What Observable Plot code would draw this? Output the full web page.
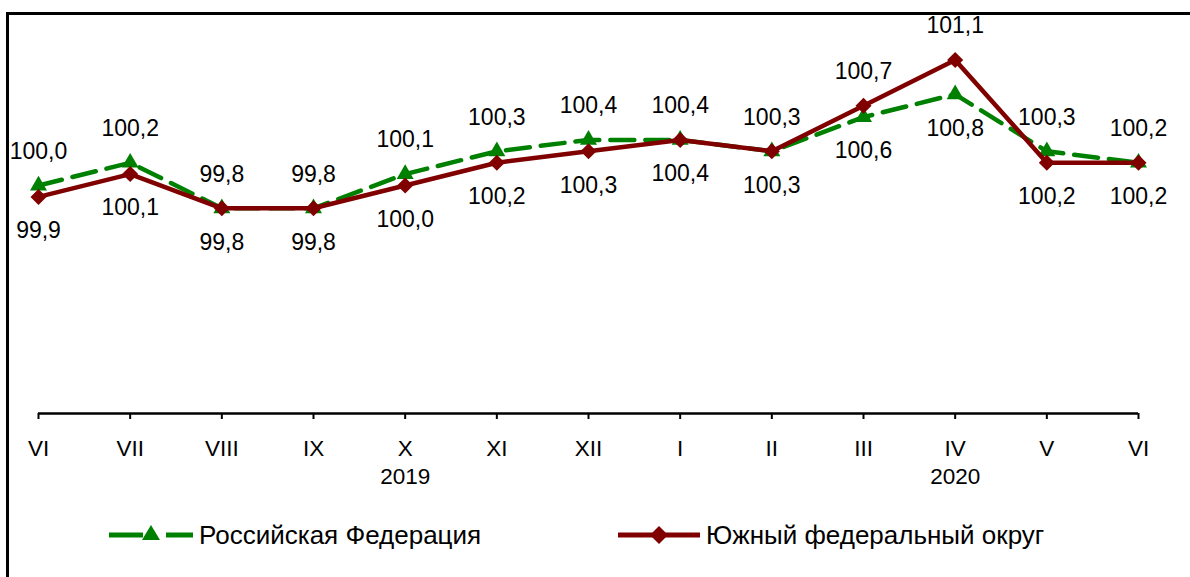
<!DOCTYPE html>
<html>
<head>
<meta charset="utf-8">
<script src="https://cdn.jsdelivr.net/npm/d3@7"></script>
<script src="https://cdn.jsdelivr.net/npm/@observablehq/plot@0.6"></script>
<style>
  html, body { margin: 0; padding: 0; background: #fff; overflow: hidden; }
  body { width: 1190px; height: 577px; position: relative; font-family: "Liberation Sans", Arial, sans-serif; }
  #frame { position: absolute; left: 6px; top: 12px; width: 1300px; height: 700px;
           border-left: 3px solid #000; border-top: 3px solid #000; }
  #chart { position: absolute; left: 0; top: 0; }
  .leg { position: absolute; top: 521px; height: 28px; display: flex; align-items: center;
         font-size: 26px; color: #000; white-space: nowrap; }
  .leg svg { display: block; margin-right: 6px; }
</style>
</head>
<body>
<div id="frame"></div>
<div id="chart"></div>
<div class="leg" id="leg1" style="left:109px"></div>
<div class="leg" id="leg2" style="left:618px"></div>
<script>
const months = ["VI","VII","VIII","IX","X","XI","XII","I","II","III","IV","V","VI"];
const rf  = [100.0,100.2,99.8,99.8,100.1,100.3,100.4,100.4,100.3,100.6,100.8,100.3,100.2];
const yfo = [99.9,100.1,99.8,99.8,100.0,100.2,100.3,100.4,100.3,100.7,101.1,100.2,100.2];
const years = ["2019","2020"];
const yearMonthIndex = [4,10];
const seriesNames = ["Российская Федерация","Южный федеральный округ"];

const green = "#008000", red = "#800000";
const fmt = v => v.toFixed(1).replace(".", ",");
const idx = d3.range(months.length);

const diamond = {
  draw(ctx, size) {
    const r = Math.sqrt(size / 2);
    ctx.moveTo(0, -r); ctx.lineTo(r, 0); ctx.lineTo(0, r); ctx.lineTo(-r, 0); ctx.closePath();
  }
};

const rfAbove = i => rf[i] >= yfo[i];
const lab = 23;

const chart = Plot.plot({
  width: 1190, height: 500,
  marginLeft: 38, marginRight: 52, marginTop: 14, marginBottom: 87,
  x: {type: "linear", domain: [0, months.length - 1]},
  y: {domain: [98, 101.5], axis: null},
  style: {fontFamily: "'Liberation Sans', Arial, sans-serif", fontSize: "22px", color: "#000", background: "transparent", overflow: "visible"},
  marks: [
    Plot.ruleY([98], {stroke: "#000", strokeWidth: 2.5}),
    Plot.axisX({ticks: idx, tickFormat: i => months[i], tickSize: 6, tickPadding: 21, fontSize: 22.5, strokeWidth: 2, stroke: "#000", fill: "#000"}),
    Plot.text(years, {x: (d, i) => yearMonthIndex[i], frameAnchor: "bottom", dy: 70, text: d => d, fontSize: 22.5, fill: "#000"}),
    Plot.line(idx, {x: i => i, y: i => rf[i], stroke: green, strokeWidth: 4.5, strokeDasharray: "24,11"}),
    Plot.dot(idx, {x: i => i, y: i => rf[i], symbol: "triangle", r: 6.3, fill: green, stroke: "none"}),
    Plot.line(idx, {x: i => i, y: i => yfo[i], stroke: red, strokeWidth: 4.5}),
    Plot.dot(idx, {x: i => i, y: i => yfo[i], symbol: diamond, r: 6.4, fill: red, stroke: "none"}),
    Plot.text(idx.filter(rfAbove), {x: i => i, y: i => rf[i], text: i => fmt(rf[i]), dy: -34, fontSize: lab, fill: "#000"}),
    Plot.text(idx.filter(i => !rfAbove(i)), {x: i => i, y: i => rf[i], text: i => fmt(rf[i]), dy: 34, fontSize: lab, fill: "#000"}),
    Plot.text(idx.filter(rfAbove), {x: i => i, y: i => yfo[i], text: i => fmt(yfo[i]), dy: 34, fontSize: lab, fill: "#000"}),
    Plot.text(idx.filter(i => !rfAbove(i)), {x: i => i, y: i => yfo[i], text: i => fmt(yfo[i]), dy: -34, fontSize: lab, fill: "#000"})
  ]
});
document.getElementById("chart").appendChild(chart);

document.getElementById("leg1").innerHTML =
  `<svg width="84" height="28"><line x1="0" x2="34" y1="14" y2="14" stroke="${green}" stroke-width="5"/>` +
  `<line x1="57" x2="84" y1="14" y2="14" stroke="${green}" stroke-width="5"/>` +
  `<path d="M42,4 L51,19 L33,19 Z" fill="${green}"/></svg><span>${seriesNames[0]}</span>`;
document.getElementById("leg2").innerHTML =
  `<svg width="82" height="28"><line x1="0" x2="82" y1="14" y2="14" stroke="${red}" stroke-width="5"/>` +
  `<path d="M41,5 L50,14 L41,23 L32,14 Z" fill="${red}"/></svg><span>${seriesNames[1]}</span>`;
</script>
</body>
</html>
